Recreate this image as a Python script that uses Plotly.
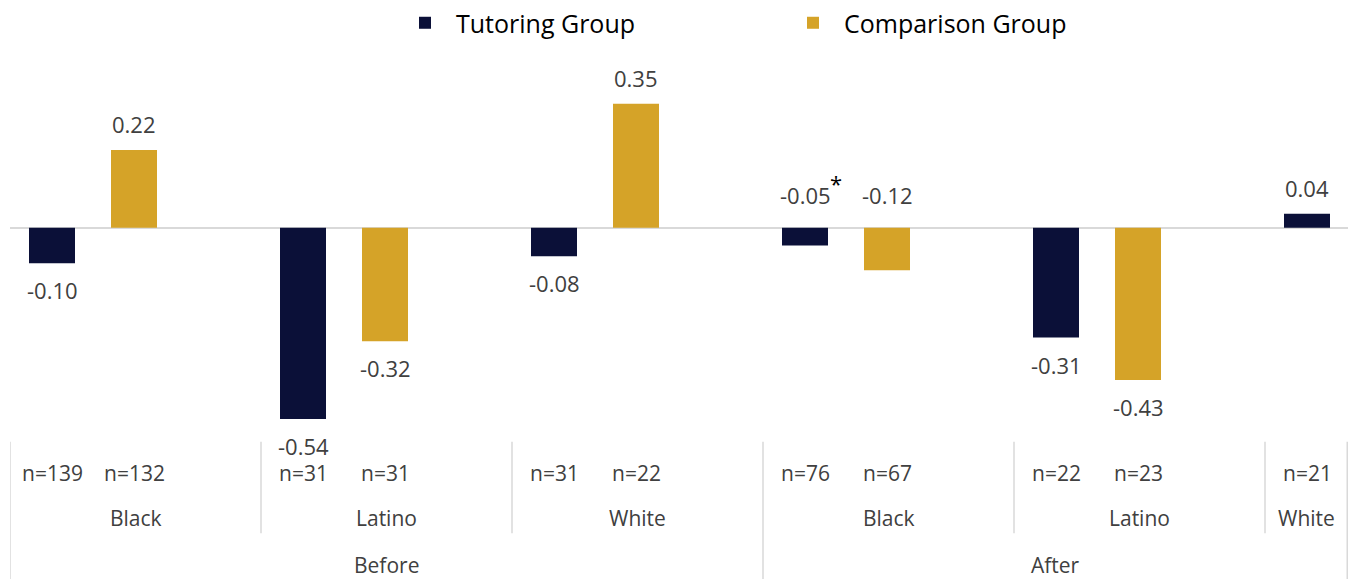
import plotly.graph_objects as go

# ---------------- data ----------------
periods = ["Before", "Before", "Before", "After", "After", "After"]
races = ["Black", "Latino", "White", "Black", "Latino", "White"]
tutoring_vals = [-0.10, -0.54, -0.08, -0.05, -0.31, 0.04]
comparison_vals = [0.22, -0.32, 0.35, -0.12, -0.43, None]
tutoring_n = ["n=139", "n=31", "n=31", "n=76", "n=22", "n=21"]
comparison_n = ["n=132", "n=31", "n=22", "n=67", "n=23", None]
significant_tutoring = [False, False, False, True, False, False]

# ---------------- styling ----------------
NAVY = "#0B1038"
GOLD = "#D5A328"
TXT = "#404040"
SEP = "#D9D9D9"
FONT = "Open Sans"

W, H = 1352, 579
ML, MR = 10, 4
PX_PER_UNIT = 356.0
ZERO_PX = 226.0
CAT_PX = 251.0

plot_w = W - ML - MR
x_lo = -0.5
x_hi = x_lo + plot_w / CAT_PX
y_hi = ZERO_PX / PX_PER_UNIT
y_lo = -(H - ZERO_PX) / PX_PER_UNIT

bar_w = 46 / CAT_PX
tut_center = -0.5 + 42 / CAT_PX
cmp_center = -0.5 + 124 / CAT_PX

def py(p):
    return 1 - p / H

idx = list(range(len(races)))

fig = go.Figure()
fig.add_trace(go.Bar(
    x=idx, y=tutoring_vals, name="Tutoring Group",
    marker=dict(color=NAVY, line=dict(width=0)),
    width=bar_w, offset=tut_center - bar_w / 2, hoverinfo="skip"))
fig.add_trace(go.Bar(
    x=idx, y=comparison_vals, name="Comparison Group",
    marker=dict(color=GOLD, line=dict(width=0)),
    width=bar_w, offset=cmp_center - bar_w / 2, hoverinfo="skip"))

annotations = []
shapes = []

def value_label(xc, v, group_i):
    if v is None:
        return
    if periods[group_i] == "After" and races[group_i] == "Black":
        y, ys = 0, 33
    elif v >= 0:
        y, ys = v, 26
    else:
        y, ys = v, -27
    annotations.append(dict(x=xc, y=y, yshift=ys, text=f"{v:.2f}", showarrow=False,
                            font=dict(family=FONT, size=22, color=TXT),
                            xanchor="center", yanchor="middle"))

for i in idx:
    value_label(i + tut_center, tutoring_vals[i], i)
    value_label(i + cmp_center, comparison_vals[i], i)
    if significant_tutoring[i]:
        annotations.append(dict(x=i + tut_center, y=0, xshift=31, yshift=45, text="*",
                                showarrow=False, font=dict(family=FONT, size=22, color="#000"),
                                xanchor="center", yanchor="middle"))
    # n labels
    for xc, lab in ((i + tut_center, tutoring_n[i]), (i + cmp_center, comparison_n[i])):
        if lab is None:
            continue
        annotations.append(dict(x=xc, y=py(472), yref="paper", text=lab, showarrow=False,
                                font=dict(family=FONT, size=21, color=TXT),
                                xanchor="center", yanchor="middle"))
    # race label centred in visible part of category
    lo, hi = i - 0.5, min(i + 0.5, x_hi)
    annotations.append(dict(x=(lo + hi) / 2, y=py(518), yref="paper", text=races[i],
                            showarrow=False, font=dict(family=FONT, size=21, color=TXT),
                            xanchor="center", yanchor="middle"))

# period labels and separators
bounds = [0]
for i in range(1, len(periods)):
    if periods[i] != periods[i - 1]:
        bounds.append(i)
bounds.append(len(periods))
for b0, b1 in zip(bounds[:-1], bounds[1:]):
    lo, hi = b0 - 0.5, min(b1 - 0.5, x_hi)
    annotations.append(dict(x=(lo + hi) / 2, y=py(565), yref="paper", text=periods[b0],
                            showarrow=False, font=dict(family=FONT, size=21, color=TXT),
                            xanchor="center", yanchor="middle"))

period_edges = set(b - 0.5 for b in bounds[:-1])
for i in idx:
    xe = i - 0.5
    bottom = 579 if xe in period_edges else 533
    shapes.append(dict(type="line", xref="x", yref="paper", x0=xe, x1=xe,
                       y0=py(441), y1=py(bottom), line=dict(color=SEP, width=1.5)))
shapes.append(dict(type="line", xref="x", yref="paper", x0=x_hi - 0.003, x1=x_hi - 0.003,
                   y0=py(441), y1=py(579), line=dict(color=SEP, width=1.5)))

fig.update_layout(
    width=W, height=H,
    margin=dict(l=ML, r=MR, t=0, b=0),
    paper_bgcolor="white", plot_bgcolor="white",
    barmode="overlay",
    xaxis=dict(visible=False, range=[x_lo, x_hi], fixedrange=True),
    yaxis=dict(range=[y_lo, y_hi], showgrid=False, showticklabels=False, ticks="",
               zeroline=True, zerolinecolor=SEP, zerolinewidth=1.5, fixedrange=True),
    legend=dict(orientation="h", x=(394 - ML) / plot_w, xanchor="left", y=1.0 + 3 / H,
                yanchor="top",
                font=dict(family=FONT, size=25, color="#000"),
                itemwidth=52, entrywidth=321, bgcolor="rgba(0,0,0,0)", traceorder="normal"),
    annotations=annotations, shapes=shapes,
    showlegend=True,
)

fig.write_html("out.html", config={"displayModeBar": False},
               post_script="document.body.style.margin='0';document.body.style.overflow='hidden';")
